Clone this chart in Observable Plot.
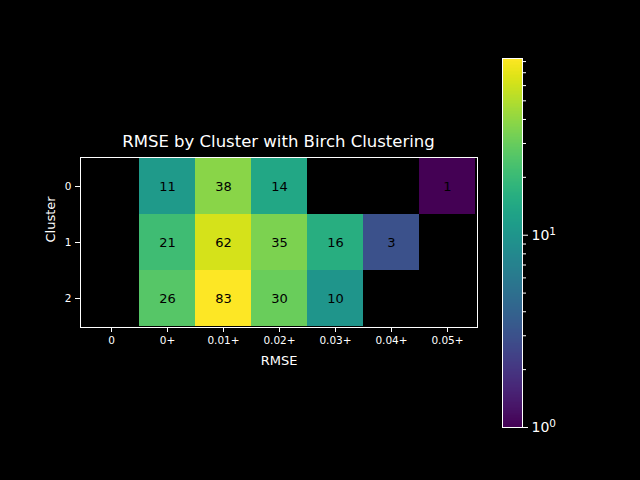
<!DOCTYPE html>
<html>
<head>
<meta charset="utf-8">
<script src="https://cdn.jsdelivr.net/npm/d3@7"></script>
<script src="https://cdn.jsdelivr.net/npm/@observablehq/plot@0.6"></script>
<style>
  html, body { margin: 0; padding: 0; background: #000; }
  #wrap { position: relative; width: 640px; height: 480px; background: #000; overflow: hidden; font-family: "DejaVu Sans", sans-serif; }
  #wrap svg { position: absolute; background: transparent; }
  #title { position: absolute; left: 80px; width: 397px; top: 132px; text-align: center; color: #fff; font-size: 16.5px; font-family: "DejaVu Sans", sans-serif; white-space: nowrap; }
</style>
</head>
<body>
<div id="wrap"><div id="title">RMSE by Cluster with Birch Clustering</div></div>
<script>
const rmseBins = ["0", "0+", "0.01+", "0.02+", "0.03+", "0.04+", "0.05+"];
const clusters = ["0", "1", "2"];
const cluster0 = [null, 11, 38, 14, null, null, 1];
const cluster1 = [null, 21, 62, 35, 16, 3, null];
const cluster2 = [null, 26, 83, 30, 10, null, null];
const colorDomain = [1, 83];
const colorbarMajorTicks = [1, 10];
const colorbarMinorTicks = [2, 3, 4, 5, 6, 7, 8, 9, 20, 30, 40, 50, 60, 70, 80];

const series = [cluster0, cluster1, cluster2];
const cells = [];
series.forEach((vals, ci) => vals.forEach((v, bi) => {
  if (v != null) cells.push({cluster: clusters[ci], bin: rmseBins[bi], value: v});
}));

const colorScale = {type: "log", scheme: "viridis", domain: colorDomain};

const main = Plot.plot({
  width: 640, height: 480,
  marginLeft: 80, marginRight: 163, marginTop: 157, marginBottom: 153,
  style: {background: "transparent", color: "#fff", fontFamily: "DejaVu Sans, sans-serif", fontSize: "10.5px"},
  x: {type: "band", domain: rmseBins, padding: 0, label: null, tickSize: 5, tickPadding: 4},
  y: {type: "band", domain: clusters, padding: 0, label: null, tickSize: 5, tickPadding: 4},
  color: colorScale,
  marks: [
    Plot.cell(cells, {x: "bin", y: "cluster", fill: "value", inset: 0}),
    Plot.text(cells, {x: "bin", y: "cluster", text: d => String(d.value), fill: "#000", fontSize: 13}),
    Plot.frame({stroke: "#fff", strokeWidth: 1}),
    Plot.text(["RMSE"], {frameAnchor: "bottom", dy: 37, fill: "#fff", fontSize: 13, text: d => d}),
    Plot.text(["Cluster"], {frameAnchor: "left", dx: -30, rotate: -90, fill: "#fff", fontSize: 13, text: d => d})
  ]
});
main.style.left = "0px"; main.style.top = "0px";
document.getElementById("wrap").appendChild(main);

// colorbar
const nBands = 256;
const lo = Math.log10(colorDomain[0]), hi = Math.log10(colorDomain[1]);
const bands = d3.range(nBands).map(i => ({
  y1: Math.pow(10, lo + (hi - lo) * i / nBands),
  y2: Math.pow(10, lo + (hi - lo) * (i + 1) / nBands)
}));
const cb = Plot.plot({
  width: 100, height: 400,
  marginLeft: 10, marginRight: 70, marginTop: 8, marginBottom: 23,
  style: {background: "transparent", color: "#fff", fontFamily: "DejaVu Sans, sans-serif", fontSize: "14px"},
  x: {axis: null, domain: [0, 1]},
  y: {type: "log", domain: colorDomain, axis: null},
  color: colorScale,
  marks: [
    Plot.rect(bands, {x1: 0, x2: 1, y1: "y1", y2: "y2", fill: d => Math.sqrt(d.y1 * d.y2), shapeRendering: "crispEdges"}),
    Plot.frame({stroke: "#fff", strokeWidth: 1}),
    Plot.axisY(colorbarMajorTicks, {anchor: "right", tickSize: 5, tickPadding: 4, label: null, tickFormat: d => "10^" + Math.round(Math.log10(d)), fontSize: 14}),
    Plot.axisY(colorbarMinorTicks, {anchor: "right", tickSize: 3, label: null, tickFormat: () => ""})
  ]
});
cb.style.left = "492px"; cb.style.top = "50px";
document.getElementById("wrap").appendChild(cb);

// render exponents as superscripts
cb.querySelectorAll("text").forEach(t => {
  const s = t.textContent;
  const m = /^10\^(\d+)$/.exec(s);
  if (m) {
    t.textContent = "";
    const base = document.createElementNS("http://www.w3.org/2000/svg", "tspan");
    base.textContent = "10";
    const sup = document.createElementNS("http://www.w3.org/2000/svg", "tspan");
    sup.textContent = m[1];
    sup.setAttribute("dy", "-0.45em");
    sup.setAttribute("font-size", "10.5px");
    t.appendChild(base);
    t.appendChild(sup);
  }
});
</script>
</body>
</html>
